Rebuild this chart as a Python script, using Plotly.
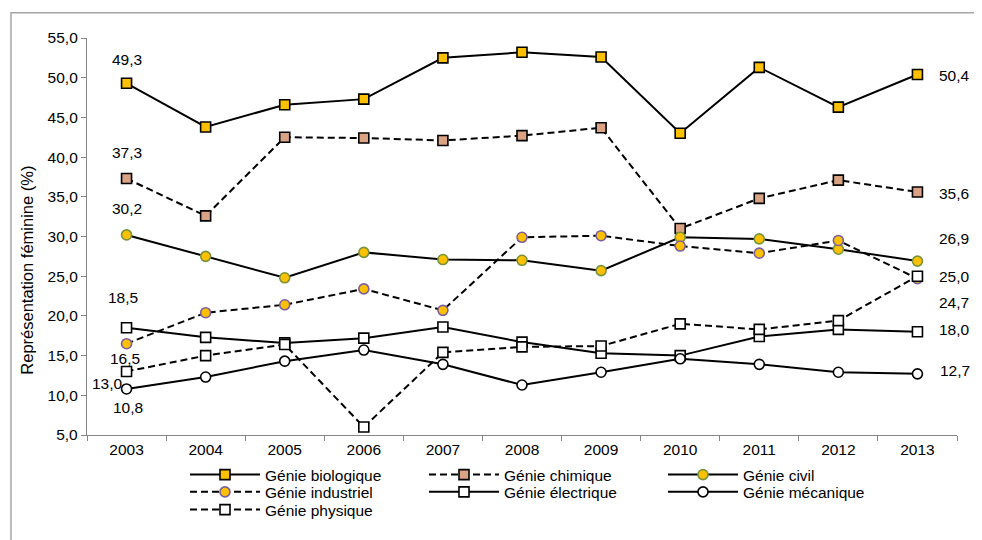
import plotly.graph_objects as go

years = ["2003", "2004", "2005", "2006", "2007", "2008", "2009", "2010", "2011", "2012", "2013"]

bio = [49.3, 43.8, 46.6, 47.3, 52.5, 53.2, 52.6, 43.0, 51.3, 46.3, 50.4]
chim = [37.3, 32.6, 42.5, 42.4, 42.1, 42.7, 43.7, 31.0, 34.8, 37.1, 35.6]
civil = [30.2, 27.5, 24.8, 28.0, 27.1, 27.0, 25.7, 29.9, 29.7, 28.4, 26.9]
indus = [16.5, 20.4, 21.4, 23.4, 20.7, 29.9, 30.1, 28.8, 27.9, 29.5, 24.7]
elec = [18.5, 17.3, 16.6, 17.2, 18.6, 16.7, 15.3, 15.0, 17.4, 18.3, 18.0]
meca = [10.8, 12.3, 14.3, 15.7, 13.9, 11.3, 12.9, 14.6, 13.9, 12.9, 12.7]
phys = [13.0, 15.0, 16.4, 6.0, 15.4, 16.1, 16.2, 19.0, 18.3, 19.4, 25.0]

names = ["Génie biologique", "Génie chimique", "Génie civil", "Génie industriel",
         "Génie électrique", "Génie mécanique", "Génie physique"]

FONT = "Liberation Sans, Arial, sans-serif"
FS = 15.5
DASH = "7px,4px"

styles = {
    "Génie biologique": dict(data=bio, dash="solid", symbol="square", fill="#FFC000", edge="#000000", legend="legend"),
    "Génie chimique": dict(data=chim, dash=DASH, symbol="square", fill="#D9A384", edge="#000000", legend="legend"),
    "Génie civil": dict(data=civil, dash="solid", symbol="circle", fill="#FFC000", edge="#77933C", legend="legend"),
    "Génie industriel": dict(data=indus, dash=DASH, symbol="circle", fill="#FFC000", edge="#7A5FA0", legend="legend2"),
    "Génie électrique": dict(data=elec, dash="solid", symbol="square", fill="#FFFFFF", edge="#000000", legend="legend2"),
    "Génie mécanique": dict(data=meca, dash="solid", symbol="circle", fill="#FFFFFF", edge="#000000", legend="legend2"),
    "Génie physique": dict(data=phys, dash=DASH, symbol="square", fill="#FFFFFF", edge="#000000", legend="legend3"),
}

fig = go.Figure()
for n in names:
    s = styles[n]
    fig.add_trace(go.Scatter(
        x=years, y=s["data"], name=n, mode="lines+markers",
        line=dict(color="#000000", width=2, dash=s["dash"]),
        marker=dict(symbol=s["symbol"], size=10,
                    color=s["fill"], line=dict(color=s["edge"], width=1.6)),
        legend=s["legend"],
    ))

def fmt(v):
    return f"{v:.1f}".replace(".", ",")

# first-year labels: (series, xshift, yshift)
first_labels = [(bio, 0, 24), (chim, 0, 26), (civil, 0, 26), (elec, -4, 30),
                (indus, -2, -15), (phys, -19, -12), (meca, 1, -19)]
last_labels = [(bio, 37, -1), (chim, 37, -1), (civil, 37, 23), (phys, 37, 0),
               (indus, 37, -24), (elec, 37, 2), (meca, 38, 3)]

annotations = []
for series, xs, ys in first_labels:
    annotations.append(dict(x=0, y=series[0], xref="x", yref="y", text=fmt(series[0]), showarrow=False,
                            xshift=xs, yshift=ys, font=dict(family=FONT, size=FS, color="#000")))
for series, xs, ys in last_labels:
    annotations.append(dict(x=len(years) - 1, y=series[-1], xref="x", yref="y", text=fmt(series[-1]),
                            showarrow=False, xshift=xs, yshift=ys,
                            font=dict(family=FONT, size=FS, color="#000")))

# screen-pixel helpers (page body has an 8px default margin; plot area at 87..957 x 38..435 on screen)
def px_x(px):
    return (px - 87) / 870

def px_y(py):
    return (435 - py) / 397

# y-axis title
annotations.append(dict(xref="paper", yref="paper", x=px_x(26.7), y=px_y(270),
                        text="Représentation féminine (%)", textangle=-90, showarrow=False,
                        xanchor="center", yanchor="middle",
                        font=dict(family=FONT, size=16.5, color="#000")))

legend_common = dict(orientation="h", xanchor="left", yanchor="middle", itemwidth=70,
                     entrywidth=154, font=dict(family=FONT, size=FS, color="#000"),
                     bgcolor="rgba(0,0,0,0)", itemclick=False, tracegroupgap=0)

OFF = 8
fig.update_layout(
    width=982, height=540,
    margin=dict(l=87 - OFF, r=982 - 957 + OFF, t=38 - OFF, b=540 - 435 + OFF, autoexpand=False),
    paper_bgcolor="#FFFFFF", plot_bgcolor="#FFFFFF",
    separators=", ",
    font=dict(family=FONT, size=FS, color="#000"),
    xaxis=dict(type="category", range=[-0.5, 10.5], tickson="boundaries", ticks="outside",
               ticklen=5, tickcolor="#868686", showline=True, linecolor="#868686", linewidth=1.3,
               showgrid=False, zeroline=False, tickfont=dict(family=FONT, size=FS, color="#000")),
    yaxis=dict(range=[5, 55], tickvals=[5, 10, 15, 20, 25, 30, 35, 40, 45, 50, 55], tickformat=".1f",
               ticks="outside", ticklen=5, tickcolor="#868686", showline=True, linecolor="#868686",
               linewidth=1.3, showgrid=False, zeroline=False,
               tickfont=dict(family=FONT, size=FS, color="#000")),
    showlegend=True,
    legend=dict(x=px_x(185), y=px_y(475), **legend_common),
    legend2=dict(x=px_x(185), y=px_y(492.3), **legend_common),
    legend3=dict(x=px_x(185), y=px_y(510), **legend_common),
    annotations=annotations,
    shapes=[dict(type="path", xref="paper", yref="paper",
                 path=f"M {px_x(11)} {px_y(560)} L {px_x(11)} {px_y(12.7)} L {px_x(1000)} {px_y(12.7)}",
                 line=dict(color="#A6A6A6", width=1.5), layer="below")],
)

fig.write_html("out.html")
